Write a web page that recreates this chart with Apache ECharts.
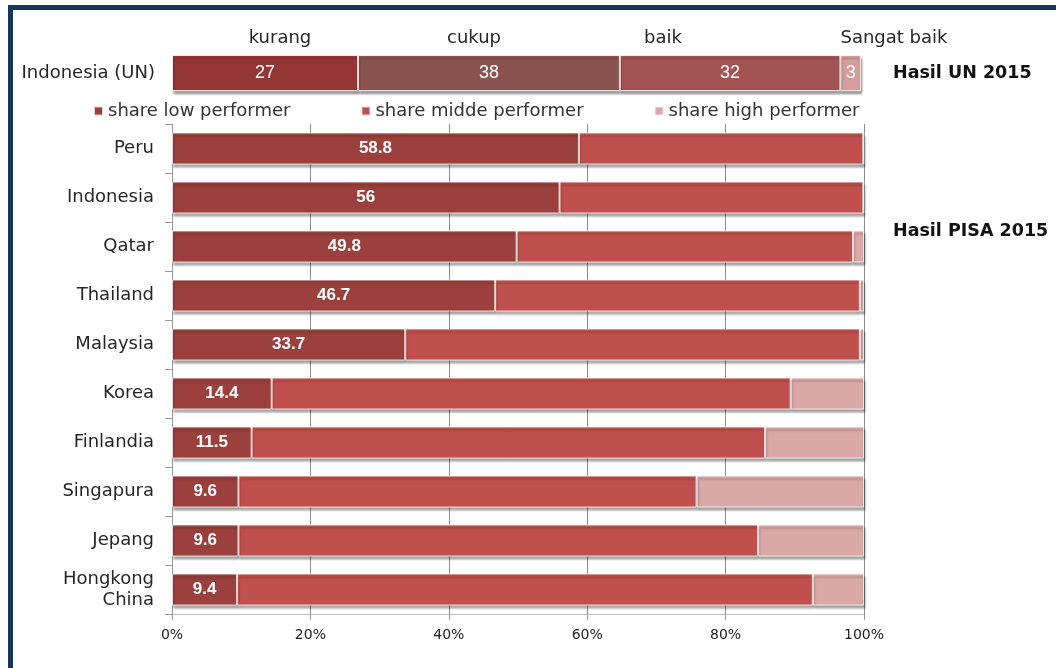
<!DOCTYPE html>
<html>
<head>
<meta charset="utf-8">
<script src="https://cdn.jsdelivr.net/npm/echarts@6/dist/echarts.min.js"></script>
<style>html,body{margin:0;padding:0;background:#fff;}#c{width:1056px;height:668px;}</style>
</head>
<body>
<div id="c"></div>
<script>
// ---- data ----
const categories = ['Peru','Indonesia','Qatar','Thailand','Malaysia','Korea','Finlandia','Singapura','Jepang','Hongkong\nChina'];
const lowShare  = [58.8, 56, 49.8, 46.7, 33.7, 14.4, 11.5, 9.6, 9.6, 9.4];
const midShare  = [41.1, 43.9, 48.6, 52.7, 65.7, 75.0, 74.2, 66.2, 75.1, 83.2];
const highShare = [0.1, 0.1, 1.6, 0.6, 0.6, 10.6, 14.3, 24.2, 15.3, 7.4];
const seriesNames = ['share low performer','share midde performer','share high performer'];
const unCategory = ['Indonesia (UN)'];
const unNames  = ['kurang','cukup','baik','Sangat baik'];
const unValues = [27, 38, 32, 3];
const xTicks = [0, 20, 40, 60, 80, 100];

// ---- style ----
const pisaColors = ['#9B403C','#C0504D','#D9A8A7'];
const unColors = ['#943634','#8A5350','#A35452','#D49D9C'];
const unHeaderX = [280, 474, 663, 894];
const font = 'DejaVu Sans';

const chart = echarts.init(document.getElementById('c'), null, {renderer:'canvas'});

const shadow = {shadowBlur: 2, shadowColor: 'rgba(0,0,0,0.35)', shadowOffsetY: 3, shadowOffsetX: 1};

const series = [];
[lowShare, midShare, highShare].forEach((arr, i) => {
  series.push({
    name: seriesNames[i], type: 'bar', stack: 'pisa', xAxisIndex: 0, yAxisIndex: 0,
    barWidth: 32, data: arr,
    itemStyle: Object.assign({color: pisaColors[i], borderColor: 'rgba(255,255,255,0.75)', borderWidth: 1}, shadow),
    label: i === 0 ? {show: true, position: 'inside', color: '#fff', fontFamily: 'Liberation Sans', fontWeight: 'bold', fontSize: 17} : {show: false},
    emphasis: {disabled: true}
  });
});
unValues.forEach((v, i) => {
  series.push({
    name: unNames[i], type: 'bar', stack: 'un', xAxisIndex: 1, yAxisIndex: 1,
    barWidth: 36, data: [v],
    itemStyle: Object.assign({color: unColors[i], borderColor: 'rgba(255,255,255,0.75)', borderWidth: 1}, shadow),
    label: {show: true, position: 'inside', color: '#fff', fontFamily: 'Liberation Sans', fontSize: 18},
    emphasis: {disabled: true}
  });
});

const graphics = [
  {type: 'rect', shape: {x: 10.5, y: 7.5, width: 1100, height: 700}, style: {fill: 'none', stroke: '#17375E', lineWidth: 5}, silent: true},
  {type: 'text', x: 893, y: 73, style: {text: 'Hasil UN 2015', font: 'bold 17.5px "DejaVu Sans"', fill: '#111', verticalAlign: 'middle'}},
  {type: 'text', x: 893, y: 231, style: {text: 'Hasil PISA 2015', font: 'bold 17.5px "DejaVu Sans"', fill: '#111', verticalAlign: 'middle'}}
];
unNames.forEach((n, i) => {
  graphics.push({type: 'text', x: unHeaderX[i], y: 38, style: {text: n, font: '18px "DejaVu Sans"', fill: '#262626', align: 'center', verticalAlign: 'middle'}});
});

chart.setOption({
  animation: false,
  backgroundColor: '#fff',
  textStyle: {fontFamily: font},
  legend: {
    data: seriesNames, left: 88, top: 97, icon: 'rect', itemWidth: 9, itemHeight: 9, itemGap: 70,
    textStyle: {fontFamily: font, fontSize: 18, color: '#333'}, selectedMode: false
  },
  grid: [
    {left: 172, right: 192, top: 124, bottom: 54},
    {left: 172, right: 195, top: 55, height: 36}
  ],
  xAxis: [
    {type: 'value', gridIndex: 0, min: xTicks[0], max: xTicks[xTicks.length-1], interval: 20,
     axisLine: {show: true, lineStyle: {color: '#BFBFBF'}},
     axisTick: {show: true, length: 6, lineStyle: {color: '#999'}},
     splitLine: {show: true, lineStyle: {color: '#8C8C8C', width: 1}},
     axisLabel: {formatter: '{value}%', fontFamily: font, fontSize: 14, color: '#222', margin: 14}},
    {type: 'value', gridIndex: 1, min: 0, max: 100, show: false}
  ],
  yAxis: [
    {type: 'category', gridIndex: 0, data: categories, inverse: true,
     axisLine: {show: true, lineStyle: {color: '#999'}},
     axisTick: {show: true, length: 7, lineStyle: {color: '#999'}},
     axisLabel: {fontFamily: font, fontSize: 18, color: '#262626', margin: 18, lineHeight: 21}},
    {type: 'category', gridIndex: 1, data: unCategory,
     axisLine: {show: false}, axisTick: {show: false},
     axisLabel: {fontFamily: font, fontSize: 18, color: '#262626', margin: 17}}
  ],
  series: series,
  graphic: graphics
});
</script>
</body>
</html>
